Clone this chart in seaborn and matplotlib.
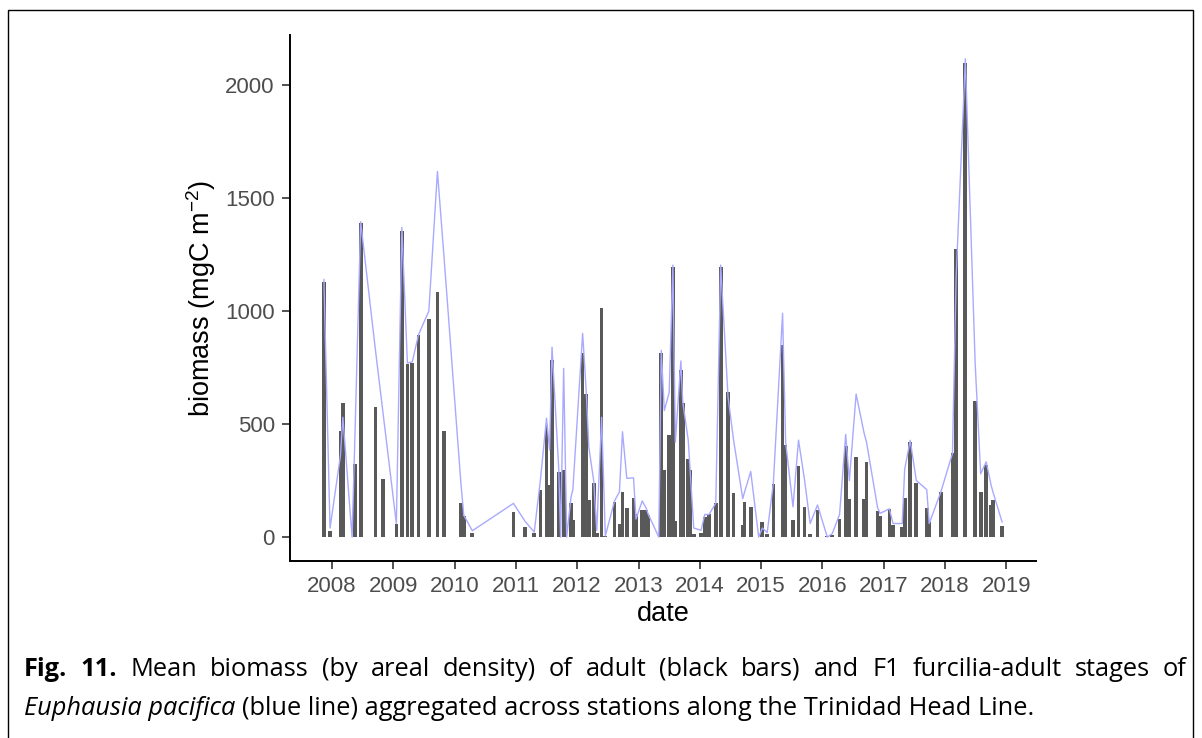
import matplotlib
matplotlib.use("Agg")
import matplotlib.pyplot as plt
import matplotlib.dates as mdates
from matplotlib.patches import Rectangle
import pandas as pd
import seaborn as sns

# Survey times (decimal years) with mean areal biomass (mgC m^-2)
survey_time = [
    2007.87, 2007.97, 2008.14, 2008.18, 2008.33, 2008.38, 2008.47, 2008.71, 2008.83,
    2009.05, 2009.14, 2009.23, 2009.31, 2009.41, 2009.58, 2009.72, 2009.83,
    2010.10, 2010.15, 2010.29, 2010.96,
    2011.15, 2011.30, 2011.40, 2011.50, 2011.55, 2011.59, 2011.70, 2011.73, 2011.78,
    2011.83, 2011.90, 2011.93,
    2012.09, 2012.15, 2012.19, 2012.27, 2012.32, 2012.40, 2012.46, 2012.61, 2012.69,
    2012.74, 2012.81, 2012.92, 2012.96,
    2013.06, 2013.12, 2013.16, 2013.33, 2013.37, 2013.42, 2013.50, 2013.56, 2013.60,
    2013.69, 2013.72, 2013.81, 2013.84, 2013.90,
    2014.02, 2014.08, 2014.15, 2014.26, 2014.34, 2014.46, 2014.55, 2014.70, 2014.73,
    2014.83, 2014.96,
    2015.02, 2015.10, 2015.20, 2015.35, 2015.40, 2015.52, 2015.61, 2015.71, 2015.80,
    2015.92,
    2016.08, 2016.16, 2016.28, 2016.38, 2016.44, 2016.55, 2016.68, 2016.72, 2016.90,
    2016.94,
    2017.09, 2017.15, 2017.30, 2017.34, 2017.43, 2017.53, 2017.70, 2017.74, 2017.93,
    2018.12, 2018.18, 2018.33, 2018.49, 2018.58, 2018.67, 2018.75, 2018.78, 2018.93,
]
adult_biomass = [
    1130, 28, 470, 593, 0, 323, 1391, 577, 257,
    60, 1356, 765, 771, 894, 963, 1086, 470,
    149, 93, 16, 109,
    43, 18, 208, 496, 230, 783, 289, 0, 295,
    0, 149, 75,
    815, 634, 164, 240, 20, 1012, 7, 156, 60,
    200, 127, 174, 102,
    118, 122, 96, 0, 813, 296, 451, 1196, 73,
    739, 591, 344, 296, 15,
    20, 90, 102, 149, 1193, 643, 193, 53, 156,
    134, 0,
    68, 15, 233, 850, 407, 75, 314, 134, 14,
    122,
    4, 10, 78, 404, 167, 355, 167, 330, 117,
    94,
    124, 55, 46, 174, 422, 240, 127, 66, 198,
    370, 1274, 2096, 602, 198, 319, 142, 164, 50,
]
furcilia_biomass = [
    1140, 40, 360, 530, 0, 480, 1395, 830, 560,
    60, 1370, 770, 775, 894, 1000, 1617, 1230,
    250, 97, 28, 149,
    70, 22, 250, 526, 385, 840, 300, 0, 746,
    0, 178, 210,
    901, 640, 400, 250, 30, 530, 5, 160, 200,
    466, 260, 262, 80,
    160, 130, 100, 0, 826, 560, 640, 1203, 420,
    779, 600, 429, 300, 40,
    30, 100, 100, 150, 1203, 620, 430, 170, 200,
    290, 0,
    40, 20, 240, 990, 420, 134, 429, 250, 60,
    142,
    0, 15, 100, 454, 250, 633, 460, 420, 130,
    105,
    125, 60, 60, 300, 428, 250, 210, 60, 200,
    370, 1150, 2115, 770, 280, 333, 230, 200, 66,
]
year_ticks = list(range(2008, 2020))
y_ticks = [0, 500, 1000, 1500, 2000]


def to_date(t):
    year = int(t)
    return pd.Timestamp(year=year, month=1, day=1) + pd.Timedelta(days=(t - year) * 365.25)


df = pd.DataFrame({
    "date": [to_date(t) for t in survey_time],
    "adult": adult_biomass,
    "furcilia": furcilia_biomass,
})

sns.set_theme(style="ticks")
plt.rcParams["font.family"] = ["Liberation Sans", "DejaVu Sans"]
plt.rcParams["mathtext.default"] = "regular"

W, H = 1202, 738
fig = plt.figure(figsize=(W / 100, H / 100), dpi=100)
fig.patch.set_facecolor("white")
ax = fig.add_axes([290 / W, 1 - 561 / H, (1036 - 290) / W, (561 - 35) / H])
ax.set_facecolor("white")

# adult stages as bars, F1 furcilia-adult stages as a line
ax.bar(df["date"], df["adult"], width=22, color="#595959", linewidth=0, zorder=2)
sns.lineplot(data=df, x="date", y="furcilia", ax=ax, color="#A9A9FF",
             linewidth=1.0, zorder=3)

# 5% padding around the data range on both axes
ymax = max(max(adult_biomass), max(furcilia_biomass))
ax.set_ylim(-0.05 * ymax, 1.05 * ymax)
span = survey_time[-1] - survey_time[0]
ax.set_xlim(to_date(survey_time[0] - 0.05 * span), to_date(survey_time[-1] + 0.05 * span))
ax.set_xticks([pd.Timestamp(year=y, month=1, day=1) for y in year_ticks])
ax.xaxis.set_major_formatter(mdates.DateFormatter("%Y"))
ax.set_yticks(y_ticks)

for side in ["top", "right"]:
    ax.spines[side].set_visible(False)
for side in ["left", "bottom"]:
    ax.spines[side].set_color("black")
    ax.spines[side].set_linewidth(1.4)
ax.tick_params(axis="both", colors="#333333", length=6, width=1.2,
               labelcolor="#4D4D4D", labelsize=16, pad=5)
ax.set_xlabel("date", fontsize=19.5, color="black", labelpad=3)
ax.set_ylabel(r"biomass (mgC m$^{-2}$)", fontsize=19.5, color="black", labelpad=5)

# frame around figure and caption
fig.add_artist(Rectangle((8 / W, -0.05), (1193 - 8) / W, 1.05 - 10 / H,
                         transform=fig.transFigure, fill=False,
                         edgecolor="black", linewidth=1.0, clip_on=False))

cap_family = ["Open Sans", "DejaVu Sans"]
left_px, right_px = 24, 1187
line2_end_px = 1037
base1, base2 = 676, 715

fig.canvas.draw()
renderer = fig.canvas.get_renderer()


def text_width(s, size, **kw):
    t = fig.text(0, 0, s, fontsize=size, family=cap_family, **kw)
    w = t.get_window_extent(renderer=renderer).width
    t.remove()
    return w


line2_italic = "Euphausia pacifica"
line2_rest = "(blue line) aggregated across stations along the Trinidad Head Line."
probe = 10.0
probe_w = (text_width(line2_italic, probe, style="italic")
           + text_width("a a", probe) - text_width("aa", probe)
           + text_width(line2_rest, probe))
cap_size = probe * (line2_end_px - left_px) / probe_w

line1 = [("Fig.", "bold"), ("11.", "bold")] + [
    (w, "normal") for w in
    "Mean biomass (by areal density) of adult (black bars) and F1 furcilia-adult stages of".split()
]
texts = []
for word, weight in line1:
    t = fig.text(0, 1 - base1 / H, word, fontsize=cap_size, family=cap_family,
                 fontweight=weight, va="baseline", ha="left", color="black")
    texts.append(t)
widths = [t.get_window_extent(renderer=renderer).width for t in texts]
gap = (right_px - left_px - sum(widths)) / (len(texts) - 1)
x = left_px
for t, w in zip(texts, widths):
    t.set_x(x / W)
    x += w + gap

w_it = text_width(line2_italic, cap_size, style="italic")
sp_w = text_width("a a", cap_size) - text_width("aa", cap_size)
fig.text(left_px / W, 1 - base2 / H, line2_italic, fontsize=cap_size,
         family=cap_family, style="italic", va="baseline", ha="left", color="black")
fig.text((left_px + w_it + sp_w) / W, 1 - base2 / H, line2_rest,
         fontsize=cap_size, family=cap_family, va="baseline", ha="left", color="black")

fig.savefig("out.png", dpi=100, facecolor="white")
